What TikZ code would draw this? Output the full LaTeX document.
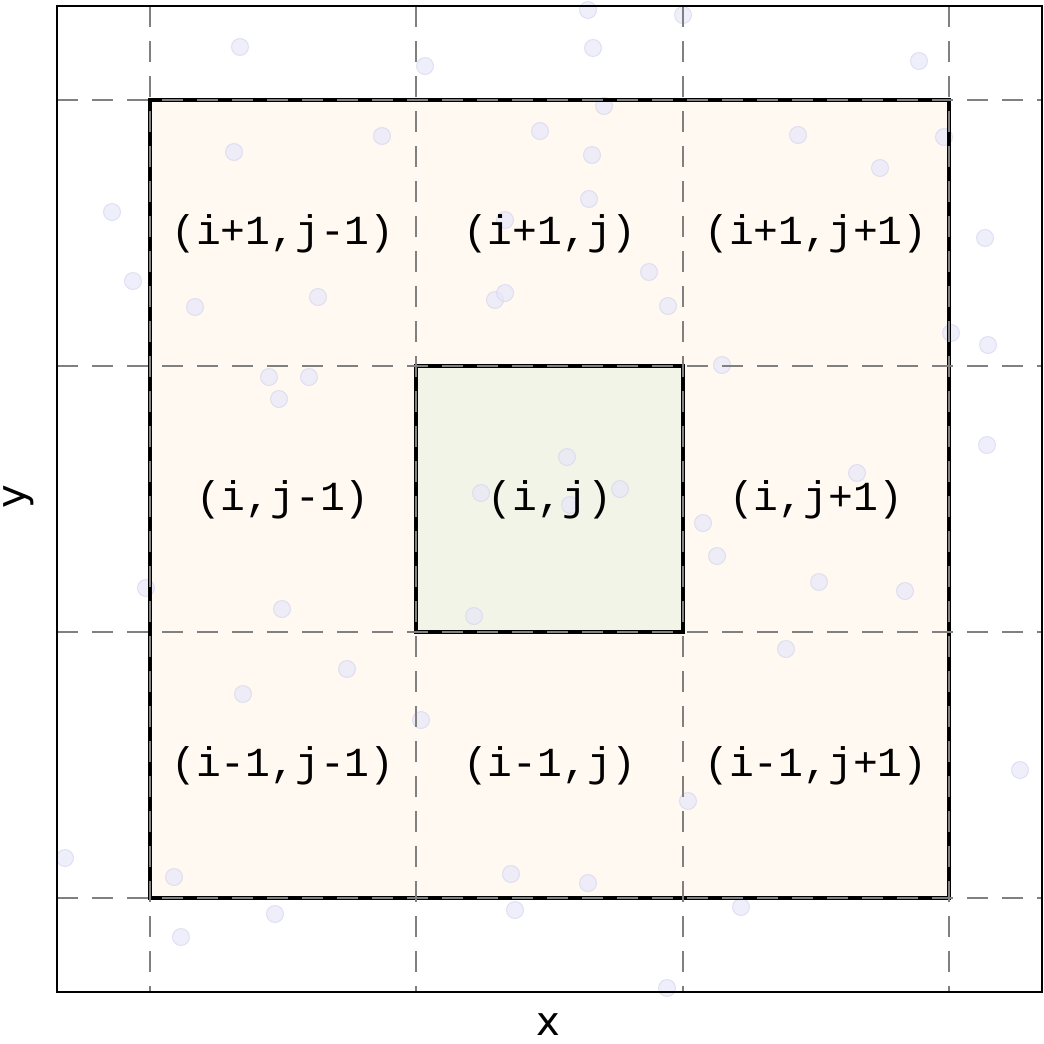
\documentclass[tikz,border=0pt]{standalone}
\usepackage{fontspec}
\setmainfont{DejaVu Sans}
\newfontfamily\cellfont{Liberation Mono}
\usetikzlibrary{positioning}
\definecolor{tanfill}{HTML}{FFF9F1}
\definecolor{centrefill}{HTML}{F3F4E8}
\definecolor{ptfill}{HTML}{E6E6FA}
\definecolor{ptedge}{HTML}{D4D4EE}
\definecolor{gridgrey}{HTML}{808080}
\tikzset{
  frame/.style={draw=black, line width=2pt},
  edge/.style={draw=black, line width=3.6pt},
  gridline/.style={draw=gridgrey, line width=2.1pt,
    dash pattern=on 15.75pt off 10.5pt},
  sample/.style={fill=ptfill, draw=ptedge, line width=0.75pt,
    fill opacity=0.65, draw opacity=0.65},
  celllabel/.style={font=\cellfont\fontsize{31}{37}\selectfont},
  axislabel/.style={font=\fontsize{30}{36}\selectfont, inner sep=0pt}
}

\begin{document}
\begin{tikzpicture}[x=0.75pt, y=-0.75pt]
    \useasboundingbox (0,0) rectangle (1044,1043);
    % neighbourhood and centre cell
    \fill[tanfill] (150,100) rectangle (949,898);
    \fill[centrefill] (416,366) rectangle (683,632);
    % sample points
    \foreach \px/\py in {588/10, 683/15, 240/47, 593/48, 425/66, 919/61,
        604/106, 234/152, 382/136, 540/131, 592/155, 798/135, 880/168,
        944/137, 112/212, 589/199, 505/220, 985/238, 133/281, 195/307,
        318/297, 495/300, 505/293, 649/272, 668/306, 951/333, 988/345,
        722/365, 269/377, 309/377, 279/399, 987/445, 567/457, 857/473,
        481/493, 620/489, 570/505, 703/523, 717/556, 819/582, 905/591,
        146/588, 282/609, 474/616, 786/649, 347/669, 243/694, 421/720,
        1020/770, 688/801, 65/858, 174/877, 511/874, 588/883, 275/914,
        515/910, 741/907, 181/937, 667/988}
      \draw[sample] (\px,\py) circle (8.5);
    % borders of the neighbourhood
    \draw[edge] (150,100) rectangle (949,898);
    \draw[edge] (416,366) rectangle (683,632);
    % cell grid
    \foreach \gx/\gy in {150/100, 416/366, 683/632, 949/898} {
      \draw[gridline] (\gx,6) -- (\gx,992);
      \draw[gridline] (57,\gy) -- (1042,\gy);
    }
    \draw[frame] (57,6) rectangle (1042,992);
    % cell labels
    \foreach \ry/\ri [count=\r] in {234/i+1, 500/i, 766/i-1}
      \foreach \cx/\cj [count=\c] in {283/j-1, 550/j, 816/j+1}
        \node[celllabel] (cell-\r-\c) at (\cx,\ry) {(\ri,\cj)};
    % axis labels
    \node[axislabel] (xlabel) at (548,1025) {x};
    \node[axislabel, rotate=90] (ylabel) at (19,497) {y};
\end{tikzpicture}
\end{document}
